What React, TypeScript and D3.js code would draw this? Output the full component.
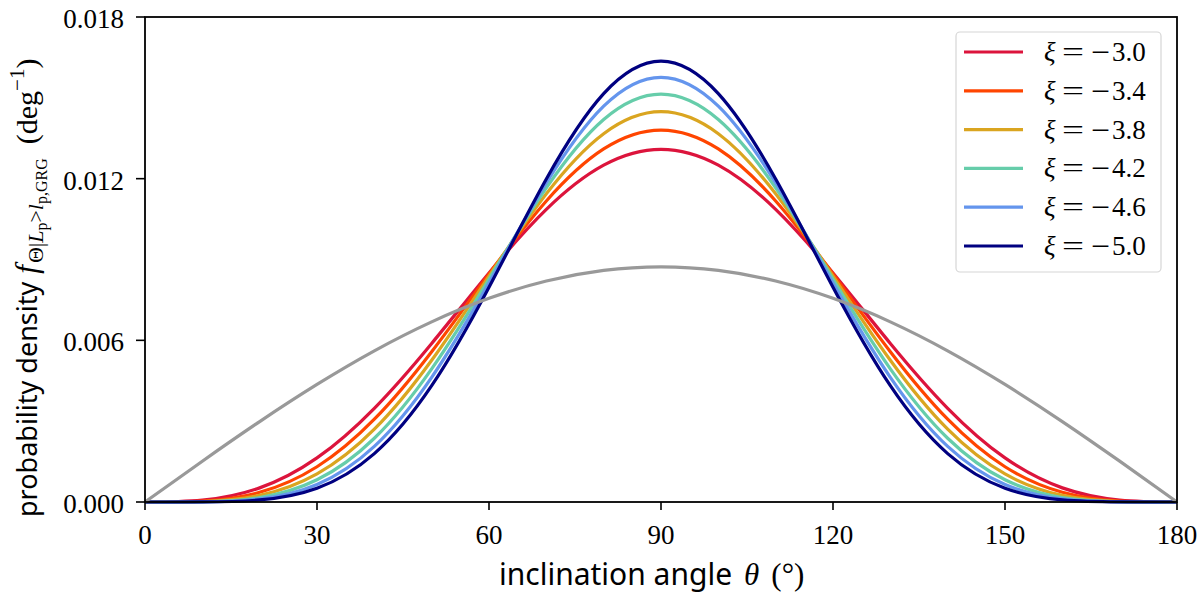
import * as d3 from 'd3';

const angles = [0, 10, 20, 30, 40, 50, 60, 70, 80, 90, 100, 110, 120, 130, 140, 150, 160, 170, 180];

// probability density per xi (symmetric about 90 deg)
const xi30 = [0, 0.0000685, 0.000524, 0.001636, 0.003477, 0.005884, 0.008502, 0.010862, 0.012502, 0.01309, 0.012502, 0.010862, 0.008502, 0.005884, 0.003477, 0.001636, 0.000524, 0.0000685, 0];
const xi34 = [0, 0.0000359, 0.0003596, 0.0013078, 0.0030723, 0.0055783, 0.0084652, 0.0111735, 0.0131048, 0.013805, 0.0131048, 0.0111735, 0.0084652, 0.0055783, 0.0030723, 0.0013078, 0.0003596, 0.0000359, 0];
const xi38 = [0, 0.0000187, 0.0002457, 0.00104, 0.0027015, 0.0052616, 0.0083862, 0.0114366, 0.0136674, 0.014486, 0.0136674, 0.0114366, 0.0083862, 0.0052616, 0.0027015, 0.00104, 0.0002457, 0.0000187, 0];
const xi42 = [0, 0.0000097, 0.0001671, 0.0008236, 0.0023655, 0.0049421, 0.0082731, 0.0116564, 0.0141943, 0.015137, 0.0141943, 0.0116564, 0.0082731, 0.0049421, 0.0023655, 0.0008236, 0.0001671, 0.0000097, 0];
const xi46 = [0, 0.000005, 0.0001133, 0.0006499, 0.0020639, 0.0046254, 0.0081325, 0.0118392, 0.0146893, 0.015761, 0.0146893, 0.0118392, 0.0081325, 0.0046254, 0.0020639, 0.0006499, 0.0001133, 0.000005, 0];
const xi50 = [0, 0.0000026, 0.0000766, 0.0005113, 0.0017955, 0.0043162, 0.0079706, 0.0119885, 0.0151563, 0.016362, 0.0151563, 0.0119885, 0.0079706, 0.0043162, 0.0017955, 0.0005113, 0.0000766, 0.0000026, 0];
// isotropic reference curve (grey)
const isotropic = [0, 0.001515, 0.002985, 0.004363, 0.00561, 0.006685, 0.007558, 0.008201, 0.008594, 0.008727, 0.008594, 0.008201, 0.007558, 0.006685, 0.00561, 0.004363, 0.002985, 0.001515, 0];

const xiValues = ['3.0', '3.4', '3.8', '4.2', '4.6', '5.0'];
const xiSeries = [xi30, xi34, xi38, xi42, xi46, xi50];
const colors = ['#dc143c', '#ff4500', '#daa520', '#66cdaa', '#6495ed', '#000080'];

const xTicks = [0, 30, 60, 90, 120, 150, 180];
const yTicks = [0, 0.006, 0.012, 0.018];

const W = 1200;
const H = 600;
const margin = { top: 17, right: 23, bottom: 98, left: 145 };

const serif = '"Liberation Serif", "DejaVu Serif", serif';
const sans = '"Noto Sans", "DejaVu Sans", sans-serif';

export default function App() {
  const x = d3.scaleLinear().domain([0, 180]).range([margin.left, W - margin.right]);
  const y = d3.scaleLinear().domain([0, 0.018]).range([H - margin.bottom, margin.top]);

  const line = d3.line<number>()
    .x((_, i) => x(angles[i]))
    .y(d => y(d))
    .curve(d3.curveNatural);

  const legend = { x: 956, y: 32, w: 205, h: 240, row: 38.8 };

  return (
    <svg width={W} height={H} style={{ position: 'absolute', left: 0, top: 0, background: '#fff' }}>
      {/* curves */}
      <g fill="none" strokeWidth={3.2}>
        {xiSeries.map((s, i) => (
          <path key={i} d={line(s)!} stroke={colors[i]} />
        ))}
        <path d={line(isotropic)!} stroke="#999" />
      </g>

      {/* frame */}
      <rect x={x(0)} y={y(0.018)} width={x(180) - x(0)} height={y(0) - y(0.018)}
        fill="none" stroke="#000" strokeWidth={1.8} />

      {/* x ticks */}
      <g fontFamily={serif} fontSize={27} textAnchor="middle">
        {xTicks.map(t => (
          <g key={t}>
            <line x1={x(t)} x2={x(t)} y1={y(0)} y2={y(0) + 8} stroke="#000" strokeWidth={1.6} />
            <text x={x(t)} y={y(0) + 42}>{t}</text>
          </g>
        ))}
      </g>

      {/* y ticks */}
      <g fontFamily={serif} fontSize={27} textAnchor="end">
        {yTicks.map(t => (
          <g key={t}>
            <line x1={x(0) - 9} x2={x(0)} y1={y(t)} y2={y(t)} stroke="#000" strokeWidth={1.6} />
            <text x={x(0) - 21} y={y(t) + 11}>{d3.format('.3f')(t)}</text>
          </g>
        ))}
      </g>

      {/* x label */}
      <text x={499} y={585} fontSize={30} fontFamily={sans}>
        inclination angle
        <tspan fontFamily={serif} fontStyle="italic" fontSize={31} dx={12}>θ</tspan>
        <tspan fontFamily={serif} fontSize={31} dx={12}>(°)</tspan>
      </text>

      {/* y label */}
      <text transform={`translate(37,517) rotate(-90)`} fontSize={27} fontFamily={sans}>
        probability density
        <tspan fontFamily={serif} fontStyle="italic" fontSize={31} dx={8}>f</tspan>
        <tspan fontFamily={serif} fontSize={22} dy={6} dx={2}>Θ|</tspan>
        <tspan fontFamily={serif} fontSize={22} fontStyle="italic">L</tspan>
        <tspan fontFamily={serif} fontSize={16} dy={4}>p</tspan>
        <tspan fontFamily={serif} fontSize={22} dy={-4}>&gt;</tspan>
        <tspan fontFamily={serif} fontSize={22} fontStyle="italic">l</tspan>
        <tspan fontFamily={serif} fontSize={16} dy={4}>p,GRG</tspan>
        <tspan fontFamily={serif} fontSize={30} dy={-10} dx={14}>(deg</tspan>
        <tspan fontFamily={serif} fontSize={21} dy={-13}>−1</tspan>
        <tspan fontFamily={serif} fontSize={30} dy={13}>)</tspan>
      </text>

      {/* legend */}
      <rect x={legend.x} y={legend.y} width={legend.w} height={legend.h} rx={4}
        fill="#fff" fillOpacity={0.8} stroke="#d6d6d6" strokeWidth={1.2} />
      {xiValues.map((v, i) => {
        const ly = legend.y + 20 + i * legend.row;
        return (
          <g key={v} fontFamily={serif} fontSize={27}>
            <line x1={964} x2={1023} y1={ly} y2={ly} stroke={colors[i]} strokeWidth={3.2} />
            <text x={1044} y={ly + 9} fontStyle="italic">ξ</text>
            <text x={1062} y={ly + 9} textLength={22} lengthAdjust="spacingAndGlyphs">=</text>
            <text x={1091} y={ly + 9} textLength={19} lengthAdjust="spacingAndGlyphs">−</text>
            <text x={1112} y={ly + 9}>{v}</text>
          </g>
        );
      })}
    </svg>
  );
}
